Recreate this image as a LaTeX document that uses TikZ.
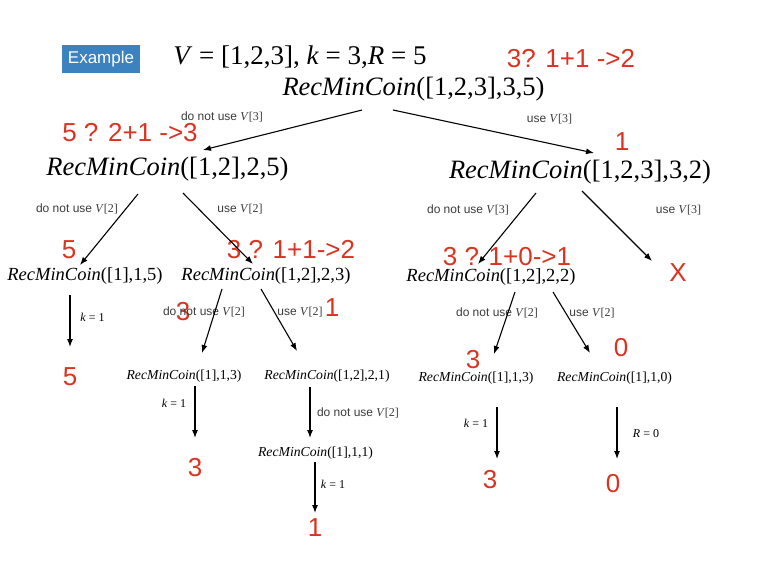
\documentclass[tikz,border=0pt]{standalone}
\usepackage{fontspec}
\setmainfont{Liberation Serif}
\newfontfamily\hv{Liberation Sans}
\usetikzlibrary{arrows.meta}
\definecolor{annot}{RGB}{218,52,33}
\definecolor{exblue}{RGB}{60,130,190}
\definecolor{lbl}{RGB}{60,60,60}
\newcommand{\rmc}[1]{\textit{RecMinCoin}(#1)}
\newcommand{\vsub}[1]{{\rmfamily\textit{V}[#1]}}
\begin{document}
\begin{tikzpicture}[x=1pt,y=-1pt,
  every node/.style={inner sep=0pt},
  big/.style={font=\fontsize{26.5}{28}\selectfont},
  mid/.style={font=\fontsize{18.5}{20}\selectfont},
  sml/.style={font=\fontsize{13.7}{15}\selectfont},
  ann/.style={text=annot,font=\hv\fontsize{26}{28}\selectfont},
  lab/.style={text=lbl,font=\hv\fontsize{12}{13}\selectfont},
  klab/.style={font=\fontsize{12}{13}\selectfont},
  arr/.style={-{Latex[length=8pt,width=6pt]},line width=1.1pt}]
\useasboundingbox[fill=white] (0,0) rectangle (768,576);

% header
\node[fill=exblue, minimum width=78pt, minimum height=28pt, text=white, font=\hv\fontsize{17}{18}\selectfont] (ex) at (101,59) {Example};
\node[font=\fontsize{27}{29}\selectfont] (vdef) at (300,57) {\textit{V} = [1,2,3], \textit{k} = 3,\textit{R} = 5};
\node[ann] (a0) at (571,59) {3? 1+1 ->2};

% level 0
\node[big] (root) at (413.5,89) {\rmc{[1,2,3],3,5}};

% level 1
\node[big] (c1) at (167.5,169) {\rmc{[1,2],2,5}};
\node[big] (c2) at (580,172) {\rmc{[1,2,3],3,2}};
\node[ann] (a1) at (130,133) {5 ? 2+1 ->3};
\node[ann] (a2) at (622,142) {1};
\node[lab] (l1) at (222,117) {do not use \vsub{3}};
\node[lab] (l2) at (549.5,119) {use \vsub{3}};
\draw[arr] ([shift={(-51.5,21)}]root.center) -- ([shift={(35.5,-19)}]c1.center);
\draw[arr] ([shift={(-20.5,21)}]root.center) -- ([shift={(14,-19)}]c2.center);

% level 2
\node[mid] (d1) at (85,276) {\rmc{[1],1,5}};
\node[mid] (d2) at (266,276) {\rmc{[1,2],2,3}};
\node[mid] (d3) at (491,277) {\rmc{[1,2],2,2}};
\node[ann] (x) at (678,273) {X};
\node[lab] (l3) at (77,209) {do not use \vsub{2}};
\node[lab] (l4) at (240,209) {use \vsub{2}};
\node[lab] (l5) at (468,210) {do not use \vsub{3}};
\node[lab] (l6) at (678.5,210) {use \vsub{3}};
\node[ann] (a3) at (69,250) {5};
\node[ann] (a4) at (291,250) {3 ? 1+1->2};
\node[ann] (a5) at (507,257) {3 ? 1+0->1};
\draw[arr] ([shift={(-29.5,25)}]c1.center) -- ([shift={(-5,-11)}]d1.center);
\draw[arr] ([shift={(15.5,24)}]c1.center) -- ([shift={(-13,-12)}]d2.center);
\draw[arr] ([shift={(-44,21)}]c2.center) -- ([shift={(-13,-13)}]d3.center);
\draw[arr] ([shift={(2,19)}]c2.center) -- ([shift={(-26,-12)}]x.center);

% below d1
\node[ann] (r1) at (70,377) {5};
\node[klab] (k1) at (92.5,317) {\textit{k} = 1};
\draw[arr] ([shift={(-15,19)}]d1.center) -- ([shift={(0,-30)}]r1.center);

% below d2
\node[sml] (e1) at (184,376) {\rmc{[1],1,3}};
\node[sml] (e2) at (327,376) {\rmc{[1,2],2,1}};
\node[ann] (a6) at (183,312) {3};
\node[lab] (l7) at (204,312) {do not use \vsub{2}};
\node[lab] (l8) at (300,312) {use \vsub{2}};
\node[ann] (a7) at (332,308) {1};
\draw[arr] ([shift={(-44,13)}]d2.center) -- ([shift={(18,-23)}]e1.center);
\draw[arr] ([shift={(-5,13)}]d2.center) -- ([shift={(-30,-25)}]e2.center);

\node[ann] (r2) at (195,468) {3};
\node[klab] (k2) at (174,403) {\textit{k} = 1};
\draw[arr] ([shift={(11,10)}]e1.center) -- ([shift={(0,-30)}]r2.center);

\node[sml] (f1) at (315.5,453) {\rmc{[1],1,1}};
\node[lab] (l9) at (358,413) {do not use \vsub{2}};
\draw[arr] ([shift={(-17,11)}]e2.center) -- ([shift={(-5.5,-15)}]f1.center);

\node[ann] (r3) at (315,528) {1};
\node[klab] (k3) at (333,484) {\textit{k} = 1};
\draw[arr] ([shift={(-0.5,9)}]f1.center) -- ([shift={(0,-15)}]r3.center);

% below d3
\node[sml] (g1) at (476,378) {\rmc{[1],1,3}};
\node[sml] (g2) at (614.5,378) {\rmc{[1],1,0}};
\node[lab] (l10) at (497,313) {do not use \vsub{2}};
\node[lab] (l11) at (592,313) {use \vsub{2}};
\node[ann] (a8) at (473,360) {3};
\node[ann] (a9) at (621,348) {0};
\draw[arr] ([shift={(24,15)}]d3.center) -- ([shift={(18,-24)}]g1.center);
\draw[arr] ([shift={(62,15)}]d3.center) -- ([shift={(-24.5,-25)}]g2.center);

\node[ann] (r4) at (490,480) {3};
\node[klab] (k4) at (476,423) {\textit{k} = 1};
\draw[arr] ([shift={(21,29)}]g1.center) -- ([shift={(7,-21)}]r4.center);

\node[ann] (r5) at (613,484) {0};
\node[klab] (k5) at (646,434) {\textit{R} = 0};
\draw[arr] ([shift={(2.5,29)}]g2.center) -- ([shift={(4,-25)}]r5.center);
\end{tikzpicture}
\end{document}
